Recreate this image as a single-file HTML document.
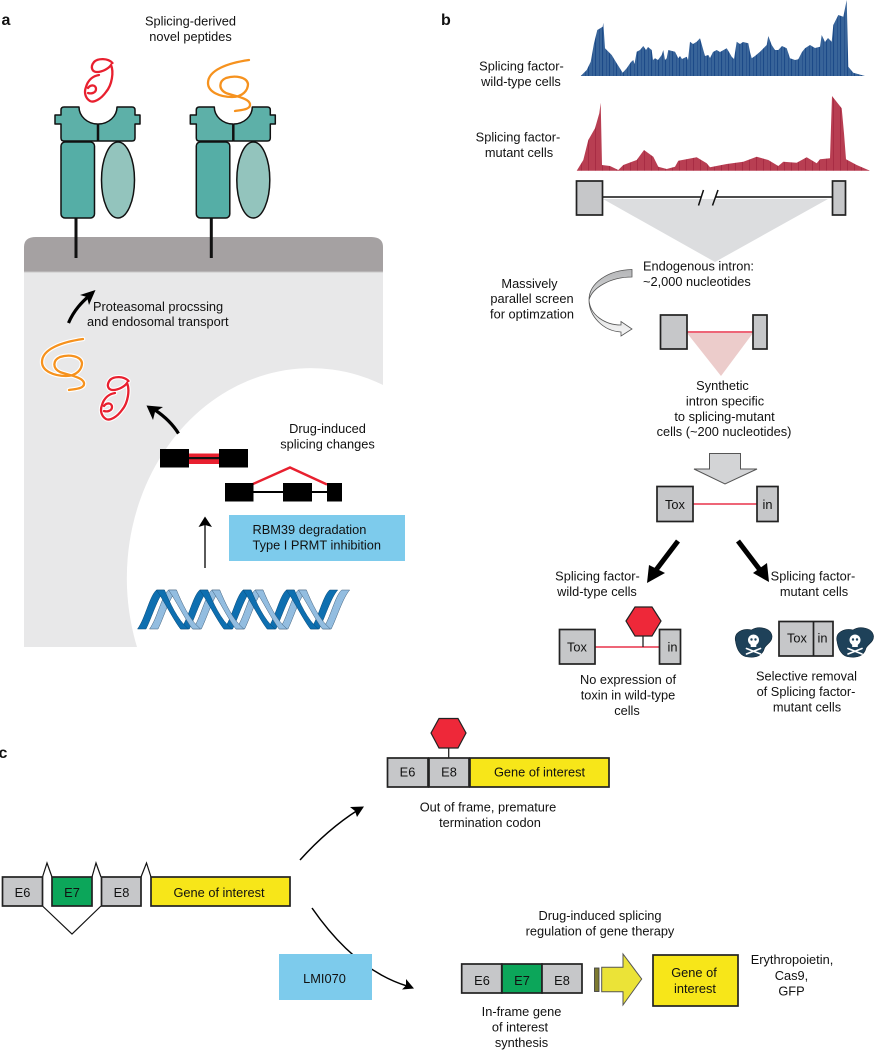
<!DOCTYPE html>
<html><head><meta charset="utf-8"><style>
html,body{margin:0;padding:0;background:#fff;width:874px;height:1050px;overflow:hidden}
svg{display:block}
text{font-family:"Liberation Sans",sans-serif;font-size:12.8px;fill:#111}
.m{text-anchor:middle}
.b{font-weight:bold;font-size:16px;fill:#111}
.g{fill:#c6c7c9;stroke:#222;stroke-width:1.7}
.y{fill:#f7e619;stroke:#222;stroke-width:1.7}
.gr{fill:#0ca65a;stroke:#222;stroke-width:1.7}
</style></head><body>
<svg width="874" height="1050" viewBox="0 0 874 1050" xmlns="http://www.w3.org/2000/svg">
<defs>
<g id="mhc" stroke="#111" stroke-width="1.5" stroke-linejoin="round">
<path d="M76 218V258" stroke-width="3" fill="none"/>
<rect x="61" y="142" width="33.5" height="76" rx="4" fill="#55aea6"/>
<ellipse cx="118" cy="180" rx="16.5" ry="38" fill="#93c4bd"/>
<path d="M64 107H79A19 17 0 0 0 97.500 124V141H64Q61 141 61 138V124H55V115H61V110Q61 107 64 107Z" fill="#5db0a8"/>
<path d="M132 107H117A19 17 0 0 1 98.500 124V141H132Q135 141 135 138V124H140V115H135V110Q135 107 132 107Z" fill="#5db0a8"/>
</g>
<path id="red" d="M112.500 63C108 58 98 58 94 62C90 67 92 72 97 72C103 72 109 68 111 65C114 72 112 85 106 92C101 99 94 103 90 101C85 98 84 92 86 87C88 80 93 76 99 75M88 88C91 84 96 85 96 89C96 93 91 94 88 93" fill="none" stroke-linecap="round"/>
<path id="ora" d="M249 60C228 63 208 70 208 83C208 92 220 97 232 97C243 97 248 90 248 84C247 77 235 75 226 78C219 81 218 89 226 93C234 96 249 98 250 104C251 110 240 110 235 111" fill="none" stroke-linecap="round"/>
<pattern id="bl" width="7" height="10" patternUnits="userSpaceOnUse"><rect width="7" height="10" fill="#386499"/><rect width="1.100" height="10" fill="#1c4a88"/><rect x="4" width=".8" height="10" fill="#234f8c"/></pattern>
<pattern id="rd" width="7" height="10" patternUnits="userSpaceOnUse"><rect width="7" height="10" fill="#b83e52"/><rect width="1" height="10" fill="#a82c44"/></pattern>
<linearGradient id="cg" x1="0" y1="0" x2="0" y2="1"><stop offset="0" stop-color="#b5b6b8"/><stop offset=".45" stop-color="#d8d9da"/><stop offset="1" stop-color="#f4f4f4"/></linearGradient>
<path id="ri" d="M0 39C8 28 12 6 19 0H27C20 8 14 28 8.500 39Z"/>
<path id="fa" d="M19 0H27C32 12 40 30 51 39H43C36 30 26 10 19 0Z"/>
<g id="skull">
<path d="M-18 -3C-20 -12 -10 -16 -2 -14C4 -18 17 -17 18.500 -8C19 -2 13 0 11 4C9 12 2 14 -5 13C-13 13 -17 5 -18 -3Z" fill="#1e4159" stroke="#0f2433" stroke-width=".6"/>
<circle cx="0" cy="-4" r="5.500" fill="#fff"/><rect x="-2.800" y="-1" width="5.600" height="4" fill="#fff"/>
<circle cx="-2" cy="-4.500" r="1.200" fill="#1e4159"/><circle cx="2" cy="-4.500" r="1.200" fill="#1e4159"/>
<path d="M-7 4.500L7 10M7 4.500L-7 10" stroke="#fff" stroke-width="1.700" stroke-linecap="round"/>
</g>
</defs>

<!-- Panel a -->
<text class="b" x="1.500" y="25">a</text>
<text class="m" x="190.500" y="25.500">Splicing-derived</text>
<text class="m" x="190.500" y="41">novel peptides</text>
<use href="#red" stroke="#e8202f" stroke-width="2.300"/>
<use href="#ora" stroke="#f6921e" stroke-width="2.300"/>
<path d="M24 272H383V647H24Z" fill="#e8e8e9"/>
<path d="M24 272V247Q24 237 36 237H371Q383 237 383 247V272Z" fill="#a5a1a2"/>
<path d="M24 272H383" stroke="#c9c8c8" stroke-width="1"/>
<path d="M383 385A184 210 0 0 0 137 647H383Z" fill="#fff"/>
<use href="#mhc"/>
<use href="#mhc" transform="translate(135.300 0)"/>
<path d="M68.500 323C74 310 82 302 90 295" fill="none" stroke="#000" stroke-width="3.200"/>
<path d="M95.500 290L89 305L87 297L80 295Z" fill="#000"/>
<text x="93" y="311">Proteasomal procssing</text>
<text x="87" y="326">and endosomal transport</text>
<use href="#ora" stroke="#fff" stroke-width="4.500" transform="translate(-166 279)"/>
<use href="#ora" stroke="#f6921e" stroke-width="2.300" transform="translate(-166 279)"/>
<use href="#red" stroke="#fff" stroke-width="4.500" transform="translate(16 318)"/>
<use href="#red" stroke="#e8202f" stroke-width="2.300" transform="translate(16 318)"/>
<path d="M178.500 433.500C172 423 164 416 155 410" fill="none" stroke="#000" stroke-width="3.200"/>
<path d="M146.500 405.500L163 407L155 412L153 420Z" fill="#000"/>
<rect x="189" y="453.500" width="30" height="10.500" fill="#e8202f"/>
<rect x="189" y="457" width="30" height="2.200" fill="#111"/>
<rect x="160" y="449" width="29" height="18.500" fill="#000"/>
<rect x="219" y="449" width="29" height="18.500" fill="#000"/>
<path d="M253 492H327" stroke="#000" stroke-width="2"/>
<path d="M253 484L290 467.500L327 484.500" fill="none" stroke="#e8202f" stroke-width="2.400"/>
<rect x="225" y="483" width="28.500" height="18.500" fill="#000"/>
<rect x="283" y="483" width="29" height="18.500" fill="#000"/>
<rect x="327" y="483" width="15" height="18.500" fill="#000"/>
<text class="m" x="327.500" y="433">Drug-induced</text>
<text class="m" x="327.500" y="448.500">splicing changes</text>
<path d="M205 568V524" stroke="#000" stroke-width="1.300"/>
<path d="M205 516.500L212 527L205 525L198.500 527Z" fill="#000"/>
<rect x="229" y="515" width="176" height="46" fill="#7dcbec"/>
<text x="252.500" y="534">RBM39 degradation</text>
<text x="252.500" y="549.500">Type I PRMT inhibition</text>
<g fill="#93bde0" stroke="#3f5f7c" stroke-width=".5">
<use href="#ri" x="149.500" y="590"/><use href="#ri" x="192.800" y="590"/><use href="#ri" x="236.100" y="590"/><use href="#ri" x="279.400" y="590"/><use href="#ri" x="322.700" y="590"/>
</g>
<g fill="#0e6fb0" stroke="#0a4a78" stroke-width=".5">
<use href="#ri" x="137.500" y="590"/><use href="#ri" x="180.800" y="590"/><use href="#ri" x="224.100" y="590"/><use href="#ri" x="267.400" y="590"/><use href="#ri" x="310.700" y="590"/>
<use href="#fa" x="137.500" y="590"/><use href="#fa" x="180.800" y="590"/><use href="#fa" x="224.100" y="590"/><use href="#fa" x="267.400" y="590"/>
</g>
<g fill="#93bde0" stroke="#3f5f7c" stroke-width=".5">
<use href="#fa" x="149.500" y="590"/><use href="#fa" x="192.800" y="590"/><use href="#fa" x="236.100" y="590"/><use href="#fa" x="279.400" y="590"/>
</g>

<!-- Panel b -->
<text class="b" x="441" y="25">b</text>
<text class="m" x="521.500" y="70.500">Splicing factor-</text>
<text class="m" x="521" y="86">wild-type cells</text>
<text class="m" x="518" y="141.500">Splicing factor-</text>
<text class="m" x="519" y="157">mutant cells</text>
<polygon fill="url(#bl)" points="580.700,76 586.700,70 590.700,61.700 594,43.300 597.300,30 602.700,26.700 603.300,22.700 605,48.300 611.700,55 616.700,63.300 622.700,72.700 626.700,68.300 631,62 633.300,60 634.500,64 636.700,51.700 640,50 643.300,46 646,50 648,47 651.700,50 653,60 655,58.300 658,60 661.700,55 663.300,50 665,60 666.700,58.300 668.300,50 675,51.700 678.300,58.300 680,56 682,59 686.700,56.700 688,60 690,41.700 693,44 696.700,41.700 700,38.300 703.300,50 705,56 708.300,55 710,58 713,52 716.700,50 720,52 726.700,48.300 729,52 731.700,56.700 734,59 736.700,41.700 740,44 743,42 748.300,43.300 750,52 751.700,58.300 755,56 760,51.700 766.700,45 768.300,36 771.700,45 775,50 778.300,50 782,46 786.700,48.300 790,58.300 795,60 798.300,59.300 802,52 805,48.300 810,45 815,48 820,46.700 821.700,35 825,42 828,38 831.700,41.700 833.300,25 838.300,15 843.300,16.700 846.700,0 848.300,66.700 853.300,72.700 865,76"/>
<polygon fill="url(#rd)" points="576.700,170.700 583.300,160 588.300,140 595,128.300 599.300,113.300 600.700,102.700 602,165 610,166 618.300,170 623.300,165 636.700,160 644,150 653.300,156.700 658.300,166.700 666.700,169 675,166.700 678.300,160.700 696.700,157.300 706.700,163.300 710,167.300 726.700,164 743.300,161.700 756.700,156.700 768.300,160 778.300,166 783.300,161.700 796.700,162.700 806.700,157.300 816.700,163.300 820,159.300 830,158.300 832,96 841.700,108.300 844,133.300 846,159.300 856.700,165 870,170.700"/>
<polygon points="603,199 828,199 715,262" fill="#dcdddf"/>
<path d="M603 197H701M716 197H832" stroke="#111" stroke-width="1.500"/>
<path d="M698.500 205.500L703.500 190M712.500 205.500L718 190" stroke="#111" stroke-width="1.500"/>
<rect x="576.500" y="181" width="26" height="34" class="g"/>
<rect x="832.500" y="181" width="13" height="34" class="g"/>
<text x="643" y="270.500">Endogenous intron:</text>
<text x="643" y="286">~2,000 nucleotides</text>
<text class="m" x="529.500" y="288">Massively</text>
<text class="m" x="532" y="303">parallel screen</text>
<text class="m" x="532" y="318.500">for optimzation</text>
<path d="M632 269.500C608 270 589 283 589 300C590 315 605 325 621 325V321.500L632 329L621 336V332C603 331 589 316 589 300C592 288 610 277 632 277Z" fill="url(#cg)" stroke="#555" stroke-width=".8"/>
<polygon points="687,333 753,333 721,376" fill="#eccccb"/>
<path d="M687 332H753" stroke="#e8324a" stroke-width="1.600"/>
<rect x="660.500" y="315" width="26.500" height="34" class="g"/>
<rect x="753" y="315" width="14" height="34" class="g"/>
<text class="m" x="722.500" y="390">Synthetic</text>
<text class="m" x="725" y="405.500">intron specific</text>
<text class="m" x="724.500" y="421">to splicing-mutant</text>
<text class="m" x="724" y="436">cells (~200 nucleotides)</text>
<polygon points="709.500,453.500 740.500,453.500 740.500,469 757,469 725,484 694,469 709.500,469" fill="#d3d4d6" stroke="#555" stroke-width="1"/>
<path d="M693 504H757" stroke="#e8324a" stroke-width="1.600"/>
<rect x="657" y="486.500" width="36" height="35" class="g"/>
<rect x="757" y="486.500" width="21" height="35" class="g"/>
<text class="m" x="675" y="509">Tox</text>
<text class="m" x="767.500" y="509">in</text>
<path d="M678 541L656 570" stroke="#000" stroke-width="5"/>
<polygon points="647,583 649,565 665,573" fill="#000"/>
<path d="M738 541L760 570" stroke="#000" stroke-width="5"/>
<polygon points="769,582 753,573 767,563" fill="#000"/>
<text class="m" x="597.500" y="580.500">Splicing factor-</text>
<text class="m" x="597" y="596">wild-type cells</text>
<text class="m" x="813" y="580.500">Splicing factor-</text>
<text class="m" x="814" y="596">mutant cells</text>
<path d="M595 647H659" stroke="#e8324a" stroke-width="1.600"/>
<path d="M643 636V647" stroke="#222" stroke-width="1.300"/>
<polygon points="626,621 635,607 652,607 661,621 652,636 635,636" fill="#ee2839" stroke="#222" stroke-width="1.200"/>
<rect x="559.500" y="629.500" width="35.500" height="34.500" class="g"/>
<rect x="659.500" y="629.500" width="21" height="34.500" class="g"/>
<text class="m" x="577" y="651.500">Tox</text>
<text class="m" x="672.500" y="651.500">in</text>
<text class="m" x="628" y="684">No expression of</text>
<text class="m" x="628" y="699.500">toxin in wild-type</text>
<text class="m" x="627" y="715">cells</text>
<rect x="779" y="621.500" width="54" height="34.500" class="g"/>
<path d="M813.500 621.500V656" stroke="#222" stroke-width="1.700"/>
<text class="m" x="797" y="642.500">Tox</text>
<text class="m" x="822.500" y="642.500">in</text>
<use href="#skull" transform="translate(753.500 644)"/>
<use href="#skull" transform="translate(855 644)"/>
<text class="m" x="806.500" y="680.500">Selective removal</text>
<text class="m" x="806" y="696">of Splicing factor-</text>
<text class="m" x="807" y="711.500">mutant cells</text>

<!-- Panel c -->
<text class="b" x="-1.500" y="758">c</text>
<path d="M42.500 877L47 863L52 877M92 877L96 863L101 877M141 877L146.500 863L151 877M42.500 906L72 934L101 906" fill="none" stroke="#111" stroke-width="1.200"/>
<rect x="2.500" y="877" width="40" height="29" class="g"/>
<rect x="52" y="877" width="40" height="29" class="gr"/>
<rect x="101.500" y="877" width="39.500" height="29" class="g"/>
<rect x="151" y="877" width="139" height="29" class="y"/>
<text class="m" x="22.500" y="897">E6</text>
<text class="m" x="72" y="897">E7</text>
<text class="m" x="121.500" y="897">E8</text>
<text class="m" x="219" y="897">Gene of interest</text>
<path d="M300 860Q328 829 358 810" fill="none" stroke="#000" stroke-width="1.500"/>
<path d="M364 806.500L357 817L355 811L350 807Z" fill="#000"/>
<path d="M312 908Q355 970 407 986" fill="none" stroke="#000" stroke-width="1.500"/>
<path d="M414 988.500L402 989.500L406 985.500L406 979Z" fill="#000"/>
<rect x="279" y="954" width="93" height="46" fill="#7dcbec"/>
<text class="m" x="324.500" y="983">LMI070</text>
<path d="M448.700 748V758" stroke="#222" stroke-width="1.300"/>
<polygon points="431,733 439,718.500 458,718.500 466,733 458,748 439,748" fill="#ee2839" stroke="#222" stroke-width="1.200"/>
<rect x="387.500" y="758" width="40.500" height="29" class="g"/>
<rect x="429" y="758" width="40" height="29" class="g"/>
<rect x="470" y="758" width="139" height="29" class="y"/>
<text class="m" x="407.500" y="776.500">E6</text>
<text class="m" x="449" y="776.500">E8</text>
<text class="m" x="539.500" y="776.500">Gene of interest</text>
<text class="m" x="488" y="811.500">Out of frame, premature</text>
<text class="m" x="490" y="827">termination codon</text>
<text class="m" x="600" y="920">Drug-induced splicing</text>
<text class="m" x="600" y="935.500">regulation of gene therapy</text>
<rect x="461.700" y="964" width="40" height="29" class="g"/>
<rect x="502" y="964" width="40" height="29" class="gr"/>
<rect x="542" y="964" width="40" height="29" class="g"/>
<text class="m" x="482" y="985">E6</text>
<text class="m" x="522" y="985">E7</text>
<text class="m" x="562" y="985">E8</text>
<rect x="594.500" y="968" width="4.500" height="23.500" fill="#7d7a30" stroke="#444" stroke-width=".9"/>
<polygon points="601.700,967.300 623,967.300 623,954 641.700,979 623,1005 623,991.700 601.700,991.700" fill="#ebe337" stroke="#555" stroke-width="1"/>
<rect x="653" y="955" width="85" height="51" class="y"/>
<text class="m" x="694" y="977">Gene of</text>
<text class="m" x="695" y="993">interest</text>
<text class="m" x="792" y="964">Erythropoietin,</text>
<text class="m" x="791.500" y="980">Cas9,</text>
<text class="m" x="791.500" y="995.500">GFP</text>
<text class="m" x="521.500" y="1016">In-frame gene</text>
<text class="m" x="520" y="1031.500">of interest</text>
<text class="m" x="521.500" y="1047">synthesis</text>
</svg>
</body></html>
